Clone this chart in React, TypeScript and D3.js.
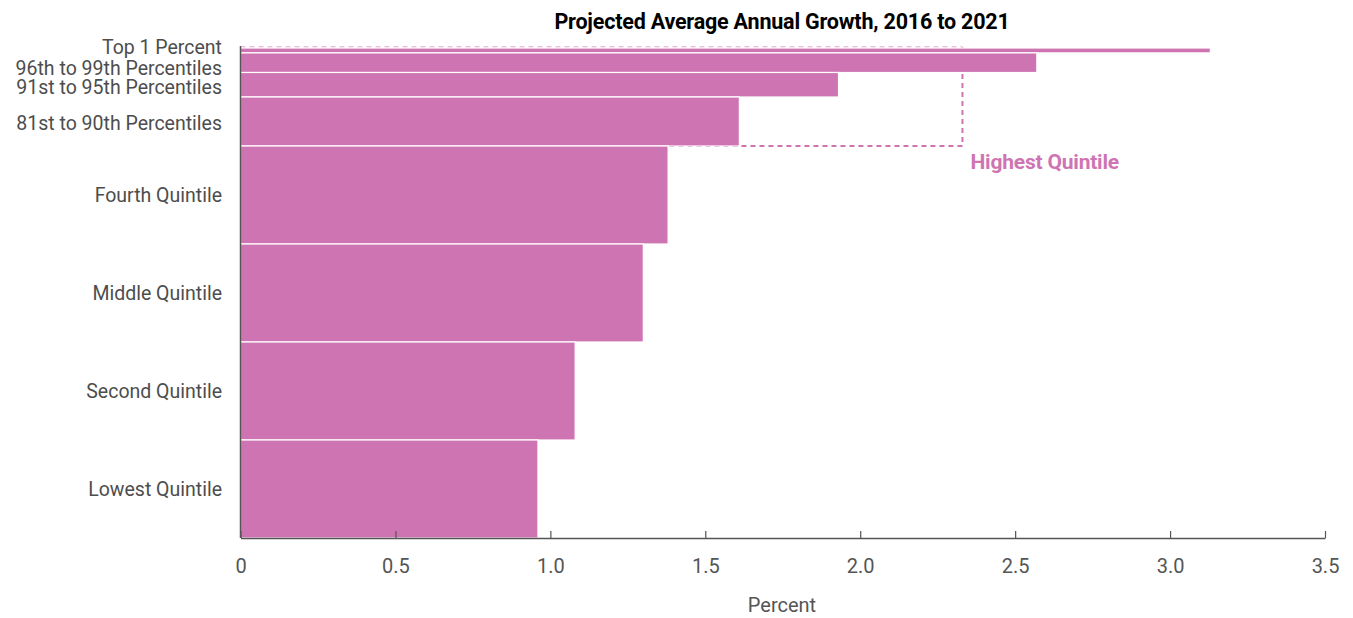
// @ts-nocheck
import React, { useEffect, useRef } from "react";
import * as d3 from "d3";

// groups from top to bottom
const groups = [
  "Top 1 Percent",
  "96th to 99th Percentiles",
  "91st to 95th Percentiles",
  "81st to 90th Percentiles",
  "Fourth Quintile",
  "Middle Quintile",
  "Second Quintile",
  "Lowest Quintile",
];
// share of population, percent (sets bar height)
const shares = [1, 4, 5, 10, 20, 20, 20, 20];
// projected average annual growth, percent
const growth = [3.13, 2.57, 1.93, 1.61, 1.38, 1.3, 1.08, 0.96];
const highestQuintile = 2.33;
const xTicks = [0, 0.5, 1.0, 1.5, 2.0, 2.5, 3.0, 3.5];

const PINK = "#cf74b2";
const FONT = "Roboto, 'Open Sans', sans-serif";

const App = () => {
  const ref = useRef();

  useEffect(() => {
    const svg = d3.select(ref.current);
    svg.selectAll("*").remove();
    const width = 1353,
      height = 618,
      margin = { top: 48, right: 28, bottom: 80, left: 240.5 };

    const x = d3
      .scaleLinear()
      .domain([0, 3.5])
      .range([margin.left, width - margin.right]);
    const y = d3
      .scaleLinear()
      .domain([0, 100])
      .range([margin.top, height - margin.bottom]);

    // cumulative start of each group (from the top)
    const starts = [];
    let acc = 0;
    shares.forEach((s) => {
      starts.push(acc);
      acc += s;
    });

    // labels of the thin groups are nudged apart so they don't collide
    const labelNudge = [-3, 5.5, 2.5, 1.5, 0, 0, 0, 0];

    // title
    svg
      .append("text")
      .attr("x", 782)
      .attr("y", 29)
      .attr("text-anchor", "middle")
      .attr("font-family", FONT)
      .attr("font-weight", "bold")
      .attr("font-size", 21.5)
      .attr("letter-spacing", -0.2)
      .attr("fill", "#000")
      .text("Projected Average Annual Growth, 2016 to 2021");

    // highest quintile bracket
    const hqEnd = starts[3] + shares[3];
    svg
      .append("path")
      .attr("d", `M${x(0)},${y(0) - 1}H${x(highestQuintile)}`)
      .attr("fill", "none")
      .attr("stroke", PINK)
      .attr("stroke-opacity", 0.45)
      .attr("stroke-width", 2)
      .attr("stroke-dasharray", "5,4");
    svg
      .append("path")
      .attr(
        "d",
        `M${x(highestQuintile)},${y(0) - 1}V${y(hqEnd)}H${x(0)}`
      )
      .attr("fill", "none")
      .attr("stroke", PINK)
      .attr("stroke-width", 2)
      .attr("stroke-dasharray", "5,4");

    svg
      .append("text")
      .attr("x", x(highestQuintile) + 8)
      .attr("y", y(hqEnd) + 23)
      .attr("font-family", FONT)
      .attr("font-weight", "bold")
      .attr("font-size", 21)
      .attr("letter-spacing", -0.2)
      .attr("fill", PINK)
      .text("Highest Quintile");

    // bars
    svg
      .append("g")
      .selectAll("rect")
      .data(groups)
      .join("rect")
      .attr("x", x(0))
      .attr("y", (d, i) => y(starts[i]))
      .attr("width", (d, i) => x(growth[i]) - x(0))
      .attr("height", (d, i) => y(shares[i]) - y(0))
      .attr("fill", PINK)
      .attr("stroke", "#fff")
      .attr("stroke-width", 1.2);

    // group labels
    svg
      .append("g")
      .selectAll("text")
      .data(groups)
      .join("text")
      .attr("x", 222)
      .attr("y", (d, i) => y(starts[i] + shares[i] / 2) + labelNudge[i])
      .attr("text-anchor", "end")
      .attr("dominant-baseline", "central")
      .attr("font-family", FONT)
      .attr("font-size", 19.5)
      .attr("fill", "#4d4d4d")
      .text((d) => d);

    // x axis
    const xAxis = svg
      .append("g")
      .attr("transform", `translate(0,${y(100)})`)
      .call(
        d3
          .axisBottom(x)
          .tickValues(xTicks)
          .tickSize(-7)
          .tickSizeOuter(0)
          .tickFormat((d) => (d === 0 ? "0" : d3.format(".1f")(d)))
      );
    xAxis.select(".domain").attr("stroke", "#555").attr("stroke-width", 1.5);
    xAxis.selectAll(".tick line").attr("stroke", "#555").attr("stroke-width", 1.2);
    xAxis
      .selectAll(".tick text")
      .attr("y", 21)
      .attr("dy", "0.71em")
      .attr("font-family", FONT)
      .attr("font-size", 20)
      .attr("fill", "#555");

    // left axis line
    svg
      .append("line")
      .attr("x1", x(0))
      .attr("x2", x(0))
      .attr("y1", y(0) - 2)
      .attr("y2", y(100))
      .attr("stroke", "#555")
      .attr("stroke-width", 1.5);

    svg
      .append("text")
      .attr("x", 782)
      .attr("y", 612)
      .attr("text-anchor", "middle")
      .attr("font-family", FONT)
      .attr("font-size", 20)
      .attr("fill", "#555")
      .text("Percent");
  }, []);

  return (
    <svg
      ref={ref}
      width={1353}
      height={618}
      style={{ position: "absolute", left: 0, top: 0, background: "#fff" }}
    ></svg>
  );
};

export default App;
